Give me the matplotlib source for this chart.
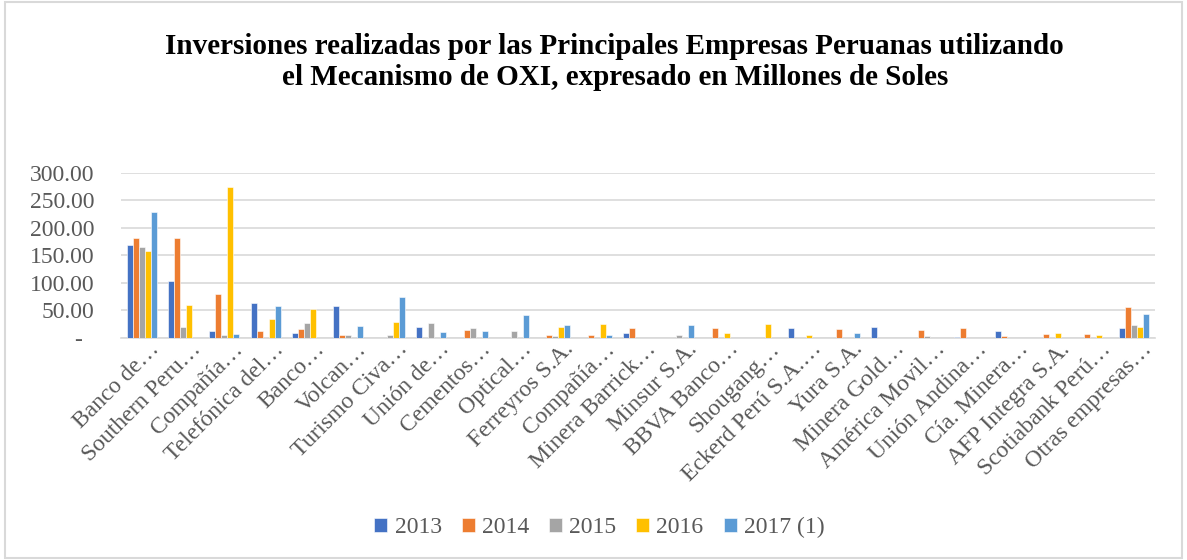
import matplotlib
matplotlib.use("Agg")
import matplotlib.pyplot as plt
import matplotlib.transforms as mtransforms
import numpy as np
from matplotlib.patches import Rectangle

categories = ["Banco de…", "Southern Peru…", "Compañía…", "Telefónica del…", "Banco…",
              "Volcan…", "Turismo Civa…", "Unión de…", "Cementos…", "Optical…",
              "Ferreyros S.A.", "Compañía…", "Minera Barrick…", "Minsur S.A.", "BBVA Banco…",
              "Shougang…", "Eckerd Perú S.A.…", "Yura S.A.", "Minera Gold…", "América Movil…",
              "Unión Andina…", "Cía. Minera…", "AFP Integra S.A.", "Scotiabank Perú…", "Otras empresas…"]
series_names = ["2013", "2014", "2015", "2016", "2017 (1)"]
v2013 = [168.3, 103.0, 12.0, 64.0, 8.5, 57.3, 0, 19.0, 0, 0, 0, 0, 7.9, 0, 0, 0, 18.3, 0, 19.5, 0, 1.0, 11.6, 0, 0, 17.0]
v2014 = [182.3, 182.3, 78.7, 11.6, 15.0, 4.3, 0, 0, 14.0, 0, 4.9, 4.9, 18.3, 0, 18.3, 0, 0, 15.2, 0, 14.0, 17.0, 3.0, 6.7, 6.7, 56.0]
v2015 = [165.9, 20.0, 5.5, 0, 26.0, 4.3, 5.5, 26.0, 17.0, 11.6, 3.0, 0, 0, 5.5, 0, 0, 0, 0, 0, 3.7, 0, 0, 0, 0, 23.2]
v2016 = [158.0, 59.0, 273.8, 34.8, 52.4, 0, 28.0, 0, 0, 0, 20.0, 25.0, 0, 0, 7.9, 24.4, 5.5, 0, 0, 0, 0, 0, 7.9, 4.9, 19.5]
v2017 = [229.9, 0, 6.7, 57.9, 0, 22.0, 74.4, 9.8, 11.6, 41.5, 22.6, 4.9, 0, 22.6, 0, 0, 0, 8.5, 0, 0, 0, 0, 0, 0, 43.3]
yticks = [0, 50, 100, 150, 200, 250, 300]
ytick_labels = ["-  ", "50.00", "100.00", "150.00", "200.00", "250.00", "300.00"]
title = "Inversiones realizadas por las Principales Empresas Peruanas utilizando\nel Mecanismo de OXI, expresado en Millones de Soles"

colors = ["#4472C4", "#ED7D31", "#A5A5A5", "#FFC000", "#5B9BD5"]
serif = ["Liberation Serif", "DejaVu Serif"]
txtcol = "#595959"

fig = plt.figure(figsize=(11.87, 5.6), dpi=100)
ax = fig.add_axes([0.1019, 0.397, 0.8711, 0.294])

x = np.arange(len(categories))
w = 0.145
allv = [v2013, v2014, v2015, v2016, v2017]
for i, (vals, name, c) in enumerate(zip(allv, series_names, colors)):
    ax.bar(x + (i - 2) * w, vals, width=w, color=c, edgecolor="white", linewidth=0.4, label=name, zorder=3)

ax.set_xlim(-0.5, len(categories) - 0.5)
ax.set_ylim(0, 300)
ax.set_yticks(yticks)
ax.set_yticklabels(ytick_labels, family=serif, fontsize=17, color=txtcol)
ax.tick_params(axis="y", length=0, pad=19)
ax.set_xticks(x)
ax.set_xticklabels(categories, rotation=45, ha="right", va="center", rotation_mode="anchor",
                   family=serif, fontsize=17, color=txtcol)
ax.tick_params(axis="x", length=0, pad=6)
shift = mtransforms.ScaledTranslation(15 / 100, 0, fig.dpi_scale_trans)
for lab in ax.get_xticklabels():
    lab.set_transform(lab.get_transform() + shift)
ax.grid(axis="y", color="#D9D9D9", linewidth=1.2, zorder=0)
for s in ["top", "right", "left"]:
    ax.spines[s].set_visible(False)
ax.spines["bottom"].set_color("#D9D9D9")
ax.spines["bottom"].set_linewidth(1.2)

fig.text(0.518, 0.889, title, ha="center", va="center", family=serif, fontsize=21,
         fontweight="bold", color="black", linespacing=1.17)

leg = fig.legend(loc="center", bbox_to_anchor=(0.505, 0.058), ncol=5, frameon=False,
                 prop={"family": serif, "size": 17}, handlelength=0.55, handleheight=0.55,
                 handletextpad=0.3, columnspacing=0.85, labelcolor=txtcol)

fig.patches.append(Rectangle((0.004, 0.004), 0.992, 0.992, transform=fig.transFigure,
                             fill=False, edgecolor="#D9D9D9", linewidth=1.5))
fig.savefig("out.png", dpi=100)
